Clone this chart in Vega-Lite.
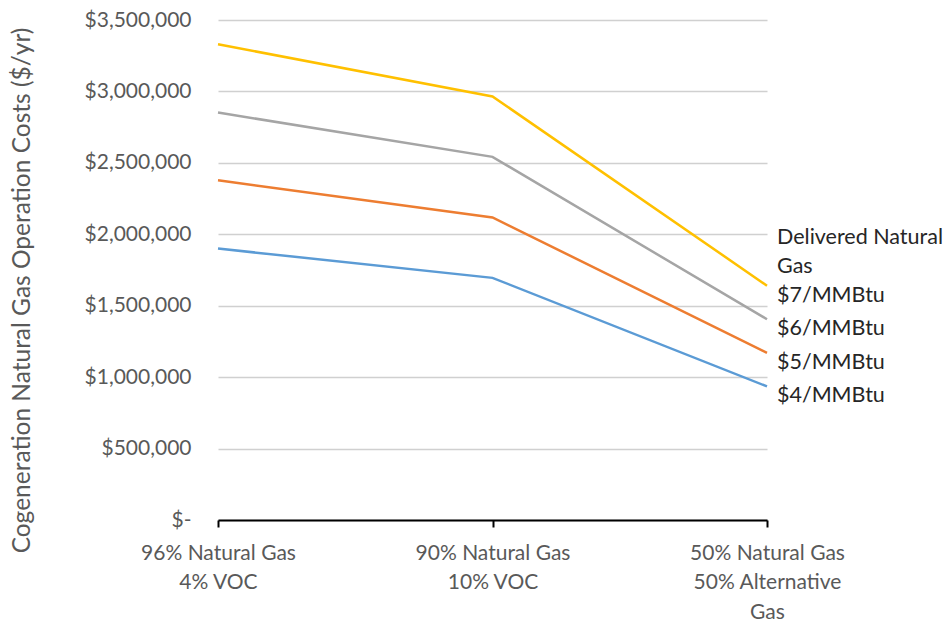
{
  "$schema": "https://vega.github.io/schema/vega-lite/v6.json",
  "autosize": "none",
  "width": 549,
  "height": 500,
  "padding": {"left": 218, "top": 20, "right": 184, "bottom": 104},
  "background": "white",
  "config": {
    "font": "Lato",
    "view": {"stroke": null},
    "text": {"lineBreak": "\n"}
  },
  "data": {
    "values": [
      {"scenario": "96% Natural Gas|4% VOC", "series": "$4/MMBtu", "cost": 1900000},
      {"scenario": "90% Natural Gas|10% VOC", "series": "$4/MMBtu", "cost": 1695000},
      {"scenario": "50% Natural Gas|50% Alternative|Gas", "series": "$4/MMBtu", "cost": 935000},
      {"scenario": "96% Natural Gas|4% VOC", "series": "$5/MMBtu", "cost": 2378000},
      {"scenario": "90% Natural Gas|10% VOC", "series": "$5/MMBtu", "cost": 2118000},
      {"scenario": "50% Natural Gas|50% Alternative|Gas", "series": "$5/MMBtu", "cost": 1170000},
      {"scenario": "96% Natural Gas|4% VOC", "series": "$6/MMBtu", "cost": 2852000},
      {"scenario": "90% Natural Gas|10% VOC", "series": "$6/MMBtu", "cost": 2542000},
      {"scenario": "50% Natural Gas|50% Alternative|Gas", "series": "$6/MMBtu", "cost": 1405000},
      {"scenario": "96% Natural Gas|4% VOC", "series": "$7/MMBtu", "cost": 3330000},
      {"scenario": "90% Natural Gas|10% VOC", "series": "$7/MMBtu", "cost": 2965000},
      {"scenario": "50% Natural Gas|50% Alternative|Gas", "series": "$7/MMBtu", "cost": 1640000}
    ]
  },
  "encoding": {
    "x": {
      "field": "scenario",
      "type": "ordinal",
      "sort": null,
      "scale": {"type": "point", "padding": 0},
      "axis": {
        "title": null,
        "labelAngle": 0,
        "labelExpr": "split(datum.label, '|')",
        "labelFontSize": 21,
        "labelColor": "#595959",
        "labelLineHeight": 29.5,
        "labelPadding": 15,
        "labelBaseline": "top",
        "domainColor": "#000000",
        "domainWidth": 2,
        "tickColor": "#000000",
        "tickWidth": 2,
        "tickSize": 7,
        "grid": false
      }
    },
    "y": {
      "field": "cost",
      "type": "quantitative",
      "scale": {"domain": [0, 3500000], "nice": false},
      "axis": {
        "values": [0, 500000, 1000000, 1500000, 2000000, 2500000, 3000000, 3500000],
        "labelExpr": "datum.value == 0 ? '$-' : '$' + format(datum.value, ',')",
        "labelFontSize": 21,
        "labelColor": "#595959",
        "labelPadding": 27,
        "domain": false,
        "ticks": false,
        "gridColor": "#D0D0D0",
        "gridWidth": 1.5,
        "title": "Cogeneration Natural Gas Operation Costs ($/yr)",
        "titleFontSize": 24.5,
        "titleFontWeight": "normal",
        "titleColor": "#595959",
        "titleAngle": -90,
        "titleBaseline": "middle",
        "titleX": -196,
        "titleY": 270
      }
    },
    "color": {
      "field": "series",
      "type": "nominal",
      "scale": {
        "domain": ["$4/MMBtu", "$5/MMBtu", "$6/MMBtu", "$7/MMBtu"],
        "range": ["#5B9BD5", "#ED7D31", "#A5A5A5", "#FFC000"]
      },
      "legend": null
    }
  },
  "layer": [
    {
      "mark": {"type": "line", "strokeWidth": 2.5},
      "encoding": {"detail": {"field": "series"}}
    },
    {
      "transform": [
        {"filter": "indexof(datum.scenario, 'Alternative') >= 0 && datum.series != '$7/MMBtu'"}
      ],
      "mark": {
        "type": "text",
        "align": "left",
        "baseline": "middle",
        "dx": 10,
        "dy": 10,
        "fontSize": 21.5
      },
      "encoding": {
        "text": {"field": "series"},
        "color": {"value": "#262626"}
      }
    },
    {
      "transform": [
        {"filter": "indexof(datum.scenario, 'Alternative') >= 0 && datum.series == '$7/MMBtu'"},
        {"calculate": "'Delivered Natural\\nGas\\n' + datum.series", "as": "label"}
      ],
      "mark": {
        "type": "text",
        "align": "left",
        "baseline": "middle",
        "dx": 10,
        "dy": -48,
        "fontSize": 21.5,
        "lineHeight": 29
      },
      "encoding": {
        "text": {"field": "label"},
        "color": {"value": "#262626"}
      }
    }
  ]
}
